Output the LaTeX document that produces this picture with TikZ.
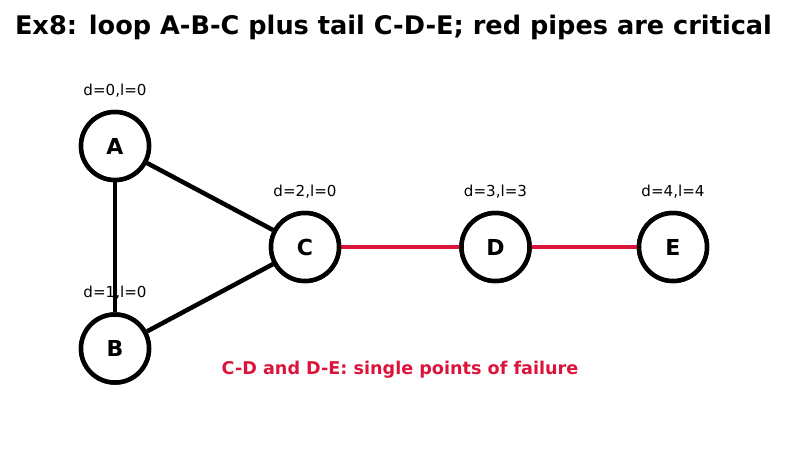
\documentclass[tikz,border=0pt]{standalone}
\usepackage{fontspec}
\setmainfont{DejaVu Sans}
\usetikzlibrary{positioning}
\definecolor{critred}{RGB}{220,20,60}

\begin{document}
\begin{tikzpicture}[
    x=1pt, y=-1pt,
    every node/.style={font=\fontsize{15.1}{18}\selectfont},
    vertex/.style={draw, circle, line width=4.5pt, fill=white, minimum size=68pt, inner sep=0pt, font=\fontsize{22}{26}\selectfont\bfseries},
    info/.style={inner sep=0pt},
    pipe/.style={line width=4.5pt},
    critical/.style={line width=4.2pt, draw=critred}
]
\useasboundingbox (0,0) rectangle (787,464);
\node[font=\fontsize{25.6}{30}\selectfont\bfseries] (title) at (393.5,27.5) {Ex8: loop A-B-C plus tail C-D-E; red pipes are critical};
% vertices
\node[vertex] (a) at (115,146) {A};
\node[vertex, below=130pt of a] (b) {B};
\node[vertex] (c) at (305,247) {C};
\node[vertex, right=118pt of c] (d) {D};
\node[vertex, right=105pt of d] (e) {E};
% depth / low labels
\node[info, above=12.5pt of a] (infoa) {d=0,l=0};
\node[info, above=12.5pt of b] (infob) {d=1,l=0};
\node[info, above=12.5pt of c] (infoc) {d=2,l=0};
\node[info, above=12.5pt of d] (infod) {d=3,l=3};
\node[info, above=12.5pt of e] (infoe) {d=4,l=4};
\node[font=\fontsize{17.6}{21}\selectfont\bfseries, text=critred] (note) at (400,370) {C-D and D-E: single points of failure};
% pipes
\draw[pipe] (a) -- (b);
\draw[pipe] (a) -- (c);
\draw[pipe] (b) -- (c);
\draw[critical] (c) -- (d);
\draw[critical] (d) -- (e);
% redraw vertices on top
\node[vertex] at (a) {A};
\node[vertex] at (b) {B};
\node[vertex] at (c) {C};
\node[vertex] at (d) {D};
\node[vertex] at (e) {E};
\end{tikzpicture}
\end{document}
